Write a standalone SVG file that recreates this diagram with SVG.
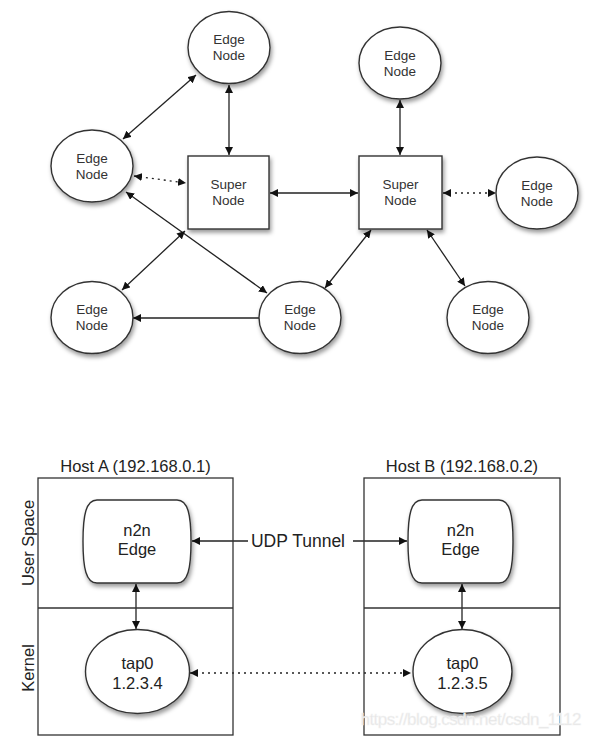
<svg xmlns="http://www.w3.org/2000/svg" width="593" height="739" viewBox="0 0 593 739">
<style>
.shape{fill:#fff;stroke:#333;stroke-width:1.4;filter:url(#sh)}
.box{fill:none;stroke:#333;stroke-width:1.3}
.t{font-family:"Liberation Sans",Arial,sans-serif;font-size:13.5px;fill:#333;text-anchor:middle}
.t2{font-family:"Liberation Sans",Arial,sans-serif;font-size:16.5px;fill:#222;text-anchor:middle}
.c{stroke:#222;stroke-width:1.3;fill:none}
.both{marker-start:url(#ah);marker-end:url(#ah)}
.end{marker-end:url(#ah)}
.dot{stroke-dasharray:2 4}
</style>
<defs>
<filter id="sh" x="-20%" y="-20%" width="150%" height="150%">
<feDropShadow dx="1.5" dy="3" stdDeviation="2" flood-color="#000" flood-opacity="0.4"/>
</filter>
<marker id="ah" viewBox="0 0 10 10" refX="10" refY="5" markerWidth="8" markerHeight="8" markerUnits="userSpaceOnUse" orient="auto-start-reverse">
<path d="M0,0 L10,5 L0,10 Z" fill="#111"/>
</marker>
</defs>

<g id="connectors">
<line class="c both" x1="196" y1="75" x2="123" y2="139"/>
<line class="c both" x1="229" y1="85" x2="229" y2="155"/>
<line class="c both dot" x1="134" y1="176" x2="186" y2="183"/>
<line class="c both" x1="270" y1="193" x2="358" y2="193"/>
<line class="c both" x1="126" y1="192" x2="267" y2="293"/>
<line class="c both" x1="185" y1="231" x2="122" y2="290"/>
<line class="c end" x1="259" y1="318" x2="133" y2="318"/>
<line class="c both" x1="400" y1="100" x2="400" y2="155"/>
<line class="c both dot" x1="443" y1="193" x2="496" y2="193"/>
<line class="c both" x1="371" y1="230" x2="325" y2="288"/>
<line class="c both" x1="427" y1="230" x2="465" y2="286"/>
<line class="c both" x1="136" y1="584" x2="136" y2="629"/>
<line class="c both" x1="462" y1="584" x2="462" y2="629"/>
<line class="c end" x1="248" y1="541" x2="192" y2="541"/>
<line class="c end" x1="353" y1="541" x2="407" y2="541"/>
<line class="c both dot" x1="190" y1="673" x2="411" y2="673"/>
</g>

<g id="edge-top-left">
<ellipse class="shape" cx="229" cy="47.5" rx="41" ry="36"/>
<text class="t" x="229" y="44">Edge</text><text class="t" x="229" y="60">Node</text>
</g>
<g id="edge-left">
<ellipse class="shape" cx="92" cy="166" rx="41" ry="36"/>
<text class="t" x="92" y="162.5">Edge</text><text class="t" x="92" y="178.5">Node</text>
</g>
<g id="super-left">
<rect class="shape" x="188" y="156" width="81" height="73"/>
<text class="t" x="228.5" y="189">Super</text><text class="t" x="228.5" y="205">Node</text>
</g>
<g id="super-right">
<rect class="shape" x="359" y="156" width="83" height="73"/>
<text class="t" x="400.5" y="189">Super</text><text class="t" x="400.5" y="205">Node</text>
</g>
<g id="edge-top-right">
<ellipse class="shape" cx="400" cy="63" rx="41" ry="36"/>
<text class="t" x="400" y="59.5">Edge</text><text class="t" x="400" y="75.5">Node</text>
</g>
<g id="edge-right">
<ellipse class="shape" cx="537" cy="193" rx="41" ry="36"/>
<text class="t" x="537" y="189.5">Edge</text><text class="t" x="537" y="205.5">Node</text>
</g>
<g id="edge-bottom-left">
<ellipse class="shape" cx="92" cy="317.5" rx="41" ry="36"/>
<text class="t" x="92" y="314">Edge</text><text class="t" x="92" y="330">Node</text>
</g>
<g id="edge-bottom-mid">
<ellipse class="shape" cx="300" cy="317.5" rx="41" ry="36"/>
<text class="t" x="300" y="314">Edge</text><text class="t" x="300" y="330">Node</text>
</g>
<g id="edge-bottom-right">
<ellipse class="shape" cx="488" cy="317.5" rx="41" ry="36"/>
<text class="t" x="488" y="314">Edge</text><text class="t" x="488" y="330">Node</text>
</g>

<g id="host-a">
<text class="t2" x="135.5" y="472">Host A (192.168.0.1)</text>
<rect class="box" x="38" y="478" width="195" height="257"/>
<line class="box" x1="38" y1="608" x2="233" y2="608"/>
<text class="t2" transform="translate(34,543) rotate(-90)">User Space</text>
<text class="t2" transform="translate(34,668) rotate(-90)">Kernel</text>
</g>
<g id="n2n-a">
<path class="shape" d="M97,500 H177 C188,500 191,515 191,541.5 C191,568 188,583 177,583 H97 C86,583 83,568 83,541.5 C83,515 86,500 97,500 Z"/>
<text class="t2" x="137" y="536">n2n</text><text class="t2" x="137" y="555">Edge</text>
</g>
<g id="tap0-a">
<ellipse class="shape" cx="137.5" cy="671.5" rx="52" ry="42"/>
<text class="t2" x="137.5" y="669">tap0</text><text class="t2" x="137.5" y="689">1.2.3.4</text>
</g>

<g id="host-b">
<text class="t2" x="462" y="472">Host B (192.168.0.2)</text>
<rect class="box" x="364" y="478" width="196" height="257"/>
<line class="box" x1="364" y1="608" x2="560" y2="608"/>
</g>
<g id="n2n-b">
<path class="shape" d="M422,500 H499 C510,500 513,515 513,541.5 C513,568 510,583 499,583 H422 C411,583 408,568 408,541.5 C408,515 411,500 422,500 Z"/>
<text class="t2" x="460.5" y="536">n2n</text><text class="t2" x="460.5" y="555">Edge</text>
</g>
<g id="tap0-b">
<ellipse class="shape" cx="462.5" cy="671.5" rx="49.5" ry="42"/>
<text class="t2" x="462.5" y="669">tap0</text><text class="t2" x="462.5" y="689">1.2.3.5</text>
</g>

<text class="t2" x="298" y="547" style="font-size:17.5px">UDP Tunnel</text>
<text x="471" y="725" style="font-family:'Liberation Sans',Arial,sans-serif;font-size:17px;fill:#e4e4e4;text-anchor:middle;stroke:#f4f4f4;stroke-width:0.5" textLength="221">https://blog.csdn.net/csdn_1112</text>
</svg>
